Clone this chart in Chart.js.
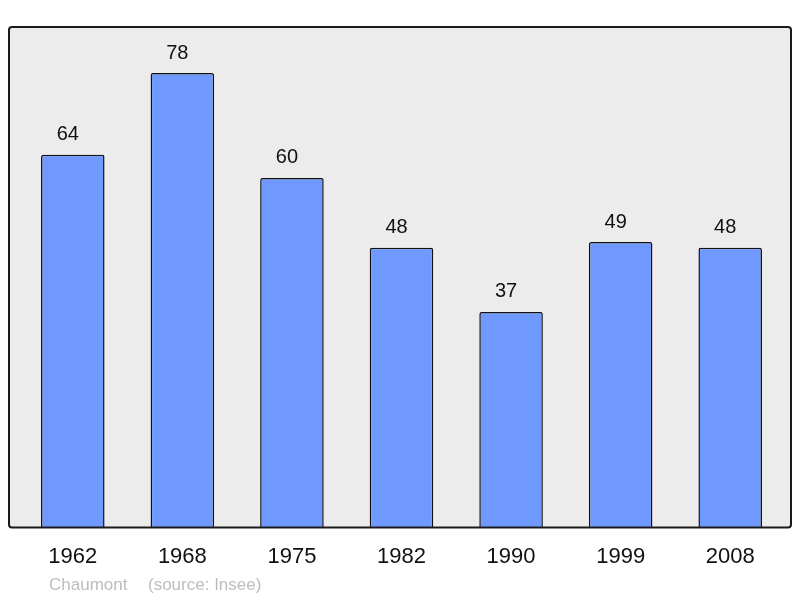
<!DOCTYPE html>
<html>
<head>
<meta charset="utf-8">
<script src="https://cdn.jsdelivr.net/npm/chart.js@4"></script>
<style>
  html, body { margin: 0; padding: 0; background: #fff; }
  #wrap { width: 800px; height: 598px; }
</style>
</head>
<body>
<div id="wrap"><canvas id="pop"></canvas></div>
<script>
const years = ['1962', '1968', '1975', '1982', '1990', '1999', '2008'];
const population = [64, 78, 60, 48, 37, 49, 48];
const yMax = 85.9;

// grey panel with dark frame behind the bars, slightly wider than the category band
const panel = {
  id: 'panel',
  beforeDraw(chart) {
    const { ctx, chartArea: a } = chart;
    const x0 = a.left - 9, x1 = a.right + 6;
    ctx.save();
    ctx.fillStyle = '#ececec';
    ctx.fillRect(x0, a.top, x1 - x0, a.bottom - a.top);
    ctx.restore();
  },
  afterDatasetsDraw(chart) {
    const { ctx, chartArea: a } = chart;
    const x0 = a.left - 9, x1 = a.right + 6;
    ctx.save();
    ctx.strokeStyle = '#1a1a1a';
    ctx.lineWidth = 2;
    ctx.beginPath();
    ctx.roundRect(x0, a.top, x1 - x0, a.bottom - a.top, 3);
    ctx.stroke();

    // value labels above the bars (sit a touch left of centre in the original)
    const meta = chart.getDatasetMeta(0);
    ctx.fillStyle = '#111';
    ctx.font = '20px "Liberation Sans", Arial, sans-serif';
    ctx.textAlign = 'center';
    ctx.textBaseline = 'middle';
    meta.data.forEach((bar, i) => {
      ctx.fillText(String(population[i]), bar.x - 5, bar.y - 20);
    });

    // source line
    ctx.fillStyle = '#bdbdbd';
    ctx.font = '17px "Liberation Sans", Arial, sans-serif';
    ctx.textAlign = 'left';
    ctx.fillText('Chaumont', 49, 585);
    ctx.fillText('(source: Insee)', 148, 585);
    ctx.restore();
  }
};

new Chart(document.getElementById('pop'), {
  type: 'bar',
  data: {
    labels: years,
    datasets: [{
      data: population,
      backgroundColor: '#7099ff',
      borderColor: '#111',
      borderWidth: 1.5,
      borderSkipped: 'bottom',
      borderRadius: 2,
      barPercentage: 0.58,
      categoryPercentage: 1
    }]
  },
  options: {
    responsive: true,
    maintainAspectRatio: false,
    animation: false,
    layout: { padding: { left: 18, right: 15, top: 27, bottom: 12 } },
    plugins: { legend: { display: false }, tooltip: { enabled: false } },
    scales: {
      x: {
        grid: { display: false, drawTicks: false },
        border: { display: false },
        ticks: {
          padding: 16,
          color: '#111',
          font: { size: 22, family: '"Liberation Sans", Arial, sans-serif' }
        }
      },
      y: {
        display: false,
        min: 0,
        max: yMax
      }
    }
  },
  plugins: [panel]
});
</script>
</body>
</html>
